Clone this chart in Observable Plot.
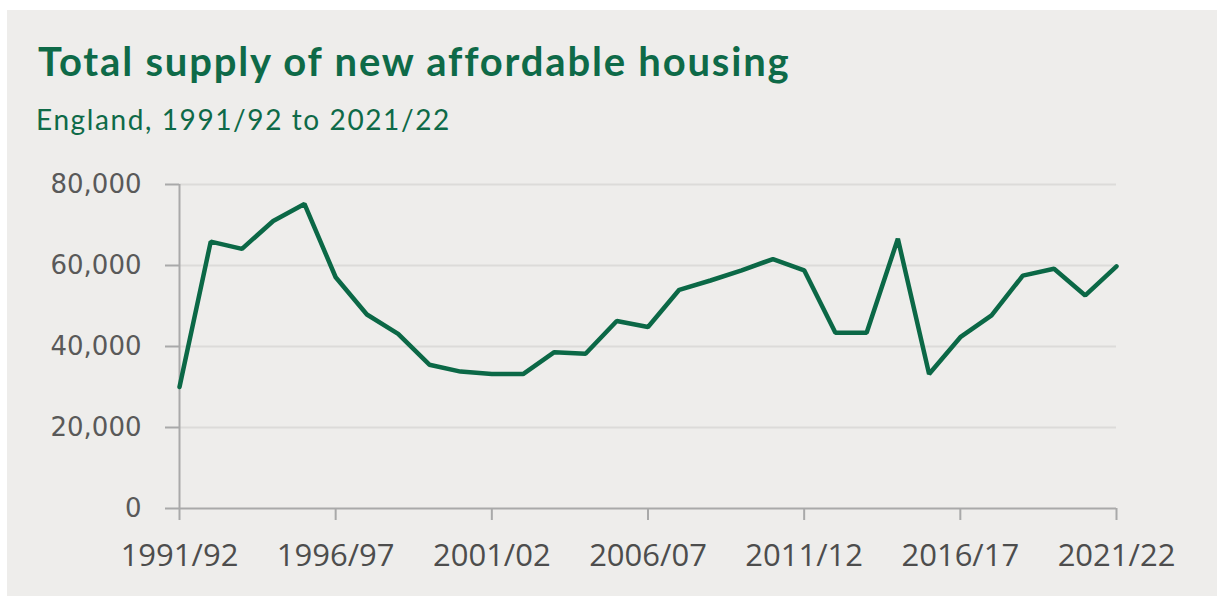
<!DOCTYPE html>
<html>
<head>
<meta charset="utf-8">
<script src="https://cdn.jsdelivr.net/npm/d3@7"></script>
<script src="https://cdn.jsdelivr.net/npm/@observablehq/plot@0.6"></script>
<style>
  html, body { margin: 0; padding: 0; background: #ffffff; width: 1217px; height: 596px; overflow: hidden; }
  #panel { position: absolute; left: 7px; top: 10px; width: 1210px; height: 586px; background: #eeedeb; }
  #title { position: absolute; left: 38px; top: 41px; font-family: Lato, "Noto Sans", sans-serif; font-weight: 700; font-size: 40px; line-height: 40px; letter-spacing: 1.8px; color: #0e6a48; white-space: nowrap; }
  #subtitle { position: absolute; left: 36px; top: 105px; font-family: Lato, "Noto Sans", sans-serif; font-weight: 400; font-size: 28px; line-height: 28px; letter-spacing: 1.6px; color: #0e6a48; white-space: nowrap; }
  #chart { position: absolute; left: 0; top: 150px; }
</style>
</head>
<body>
<div id="panel"></div>
<div id="title">Total supply of new affordable housing</div>
<div id="subtitle">England, 1991/92 to 2021/22</div>
<div id="chart"></div>
<script>
// Financial years (start year of each year: 1991 = 1991/92)
const years = [1991,1992,1993,1994,1995,1996,1997,1998,1999,2000,2001,2002,2003,2004,2005,2006,2007,2008,2009,2010,2011,2012,2013,2014,2015,2016,2017,2018,2019,2020,2021];
// Total supply of new affordable homes
const supply = [30000,65900,64100,71000,75200,57100,47900,43100,35500,33800,33200,33200,38600,38200,46300,44800,54000,56300,58800,61600,58800,43400,43400,66600,33200,42300,47700,57500,59200,52600,59800];
// X axis ticks and their labels
const tickYears = [1991,1996,2001,2006,2011,2016,2021];
const tickLabels = ["1991/92","1996/97","2001/02","2006/07","2011/12","2016/17","2021/22"];
const yTicks = [0,20000,40000,60000,80000];

const data = years.map((y, i) => ({year: y, value: supply[i]}));
const labelOf = new Map(tickYears.map((y, i) => [y, tickLabels[i]]));

const chart = Plot.plot({
  width: 1217,
  height: 446,
  marginLeft: 179,
  marginRight: 101,
  marginTop: 34,
  marginBottom: 88,
  style: { background: "transparent", overflow: "visible" },
  x: { type: "linear", domain: [1991, 2021] },
  y: { domain: [0, 80000] },
  marks: [
    Plot.gridY(yTicks.filter(d => d > 0), { stroke: "#dcdbd9", strokeOpacity: 1, strokeWidth: 2 }),
    Plot.ruleX([1991], { y1: 0, y2: 80000, stroke: "#a9a9a9", strokeWidth: 2 }),
    Plot.ruleY([0], { stroke: "#a9a9a9", strokeWidth: 2 }),
    Plot.axisY(yTicks, {
      tickSize: 14, tickPadding: 24, stroke: "#a9a9a9", strokeWidth: 2,
      tickFormat: d => d3.format(",")(d),
      fontSize: 26, fontFamily: "'DejaVu Sans', sans-serif", fill: "#595959", label: null
    }),
    Plot.axisX(tickYears, {
      tickSize: 12, tickPadding: 23, stroke: "#a9a9a9", strokeWidth: 2,
      tickFormat: d => labelOf.get(d),
      fontSize: 31, fontFamily: "'Open Sans', sans-serif", fill: "#4d4d4d", label: null
    }),
    Plot.line(data, { x: "year", y: "value", stroke: "#0b6846", strokeWidth: 4.5, strokeLinejoin: "miter" })
  ]
});
document.getElementById("chart").appendChild(chart);
</script>
</body>
</html>
